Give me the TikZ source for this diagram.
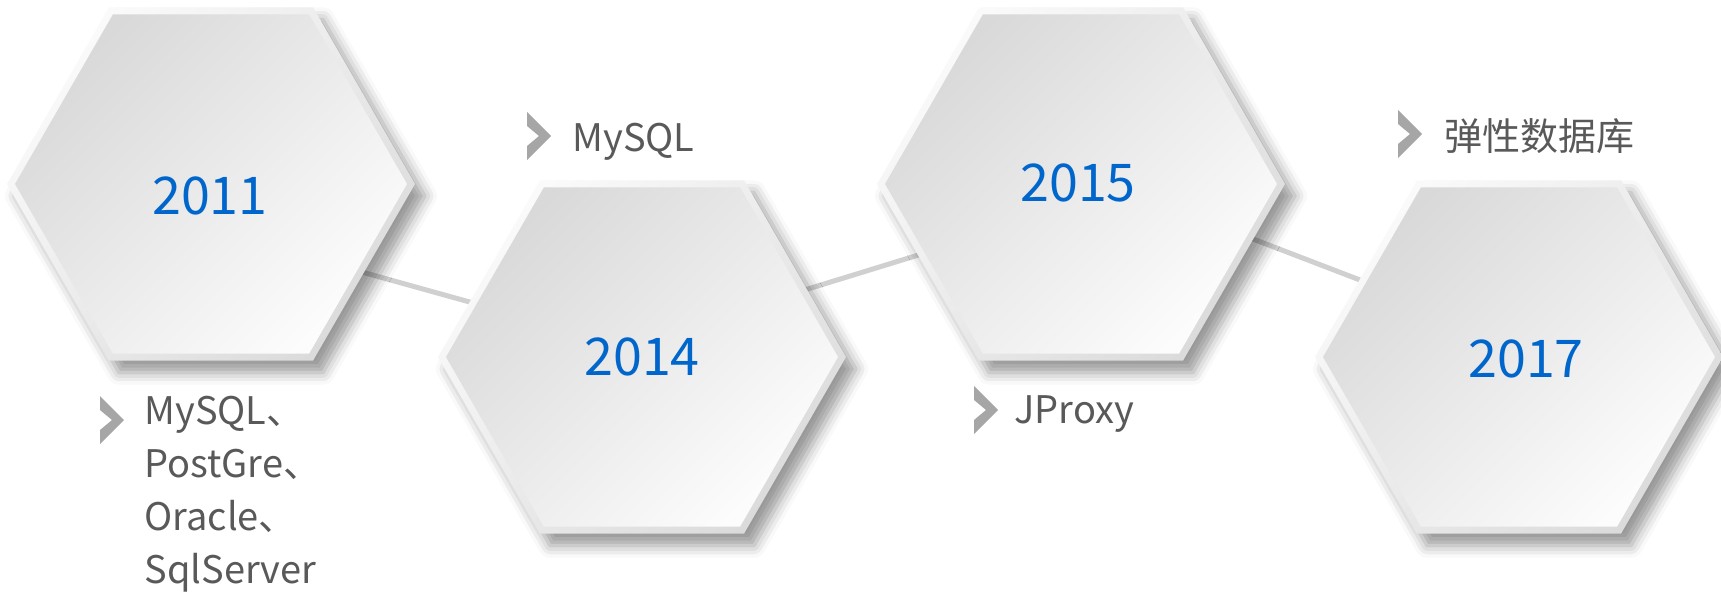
\documentclass[tikz,border=0pt]{standalone}
\usepackage{fontspec}
\setmainfont{Noto Sans CJK SC}
\usepackage{tikz}
\usetikzlibrary{shapes.geometric,shadows.blur,calc,backgrounds}
\definecolor{yearblue}{HTML}{0066CC}
\definecolor{notegray}{HTML}{595959}
\definecolor{chevgray}{HTML}{A6A6A6}
\definecolor{linkgray}{HTML}{D0D0D0}

\begin{document}
\begin{tikzpicture}[x=0.5pt,y=-0.5pt]
\tikzset{hexrim/.style={regular polygon,regular polygon sides=6,minimum size=204pt,inner sep=0pt,
  top color=white!98!black,bottom color=white!86!black,shading angle=45,
  blur shadow={shadow xshift=5pt,shadow yshift=-6pt,shadow blur radius=6pt,shadow opacity=40}}}
\tikzset{hexcore/.style={regular polygon,regular polygon sides=6,minimum size=196pt,inner sep=0pt,
  top color=white!85!black,bottom color=white!99!black,shading angle=45}}
\tikzset{year/.style={inner sep=0pt,text=yearblue,font=\fontsize{26}{30}\selectfont}}
\tikzset{note/.style={anchor=base west,inner sep=0pt,text=notegray,align=left,font=\fontsize{19}{26.5}\selectfont}}
\tikzset{link/.style={draw=linkgray,line width=2.5pt}}
\useasboundingbox (0,0) rectangle (1721,594);

\foreach \n/\x/\y in {11/211/184,14/642/357,15/1081/184,17/1519/357}{
  \node[hexrim] (h\n) at (\x,\y) {};
  \node[hexcore] (c\n) at (h\n) {};
}

\node[year] (y11) at (210,196) {2011};
\node[year] (y14) at (642,357) {2014};
\node[year] (y15) at (1078,183) {2015};
\node[year] (y17) at (1526,359) {2017};

\begin{scope}[on background layer]
\draw[link] ($(h11)+(0,46)$) -- ($(h14)+(0,-7)$);
\draw[link] ($(h14)+(0,-17)$) -- ($(h15)+(0,21)$);
\draw[link] ($(h15)+(0,-11)$) -- ($(h17)+(0,-16)$);
\end{scope}

\node[note] (n11) at (144,583) {MySQL、\\PostGre、\\Oracle、\\SqlServer};
\node[note] (n14) at (572,151) {MySQL};
\node[note] (n15) at (1014,423) {JProxy};
\node[note] (n17) at (1444,150) {弹性数据库};

\foreach \cx/\cy in {100/396,527/112,974/386,1398/110}
  \fill[chevgray] (\cx,\cy) -- ++(24,24) -- ++(-24,24) -- ++(0,-14) -- ++(12,-10) -- ++(-12,-10) -- cycle;
\end{tikzpicture}
\end{document}
